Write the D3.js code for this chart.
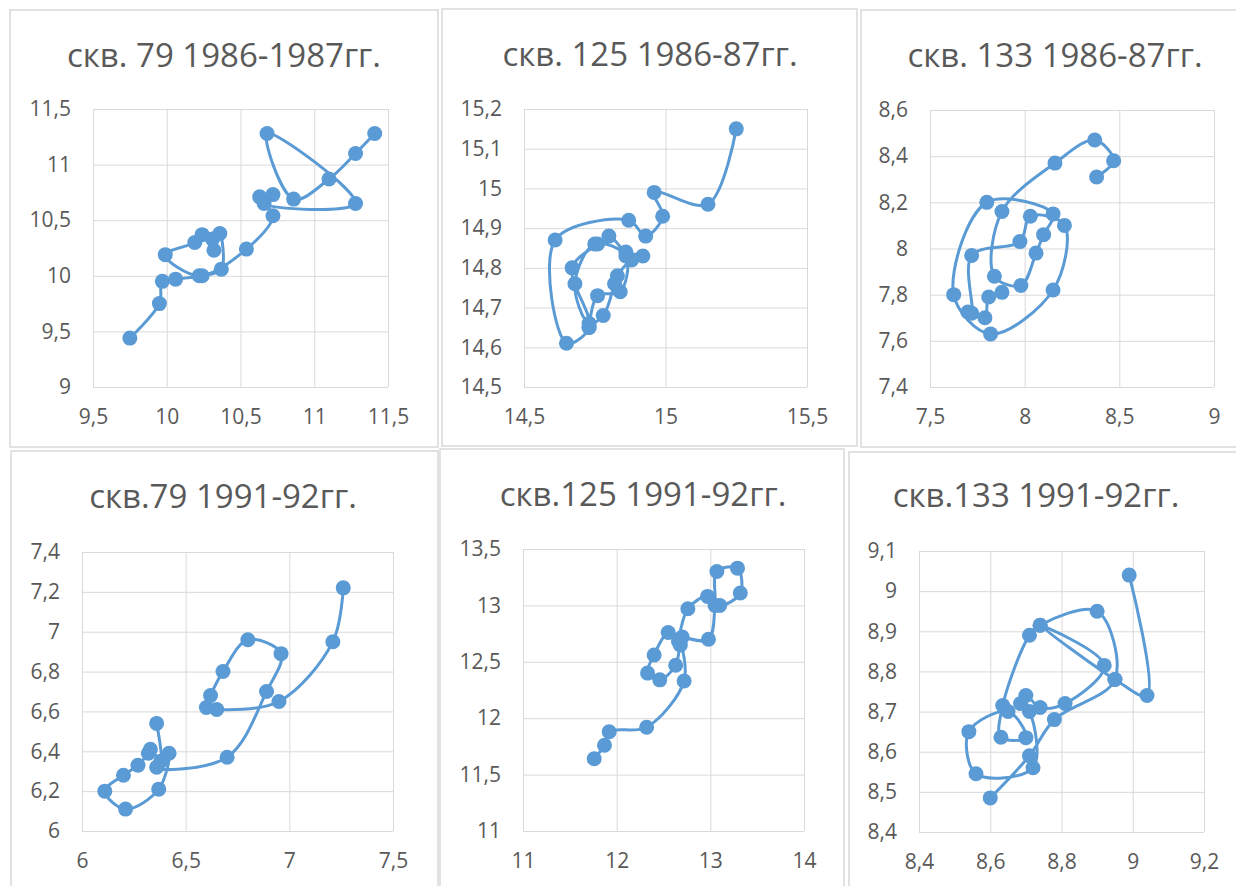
<html>
<head>
<meta charset="utf-8">
<style>
    body { margin: 0; background: #ffffff; }
    svg { display: block; font-family: "Open Sans", "Noto Sans", sans-serif; }
</style>
<script src="https://cdn.jsdelivr.net/npm/d3@7"></script>
</head>
<body>
<svg id="lienzo" width="1236" height="886"></svg>

<script>
    // Заголовки графиков
    const titles = ["скв. 79 1986-1987гг.", "скв. 125 1986-87гг.", "скв. 133 1986-87гг.",
                    "скв.79 1991-92гг.", "скв.125 1991-92гг.", "скв.133 1991-92гг."];

    // скв. 79, 1986-87
    const x79a = [9.75, 9.95, 9.97, 10.06, 10.24, 10.37, 10.36, 10.32, 10.31, 10.24, 10.19, 9.99, 10.22,
                  10.54, 10.72, 10.63, 10.72, 10.66, 11.28, 10.68, 10.86, 11.10, 11.28, 11.41];
    const y79a = [9.44, 9.75, 9.95, 9.97, 10.00, 10.06, 10.38, 10.23, 10.33, 10.37, 10.30, 10.19, 10.00,
                  10.24, 10.54, 10.71, 10.73, 10.65, 10.65, 11.28, 10.69, 10.87, 11.10, 11.28];

    // скв. 125, 1986-87
    const x125a = [15.25, 15.15, 14.96, 14.99, 14.93, 14.87, 14.61, 14.65, 14.73, 14.67, 14.76, 14.80, 14.86,
                   14.92, 14.88, 14.83, 14.82, 14.78, 14.73, 14.68, 14.75, 14.86, 14.84, 14.76, 14.73];
    const y125a = [15.15, 14.96, 14.99, 14.93, 14.88, 14.92, 14.87, 14.61, 14.65, 14.80, 14.86, 14.88, 14.84,
                   14.83, 14.82, 14.78, 14.76, 14.68, 14.66, 14.76, 14.86, 14.83, 14.74, 14.73, 14.65];

    // скв. 133, 1986-87
    const x133a = [8.38, 8.47, 8.37, 8.16, 7.88, 7.84, 7.98, 8.06, 8.10, 8.15, 7.80, 7.625, 7.82, 8.15,
                   8.21, 8.03, 7.975, 7.72, 7.72, 7.70, 7.79, 7.81, 7.88];
    const y133a = [8.31, 8.38, 8.47, 8.37, 8.16, 7.88, 7.84, 7.98, 8.06, 8.15, 8.20, 7.80, 7.63, 7.82,
                   8.10, 8.14, 8.03, 7.97, 7.72, 7.725, 7.70, 7.79, 7.81];

    // скв. 79, 1991-92
    const x79b = [7.26, 7.21, 6.95, 6.65, 6.60, 6.62, 6.68, 6.80, 6.96, 6.89, 6.70, 6.36, 6.42, 6.37,
                  6.21, 6.11, 6.20, 6.27, 6.32, 6.33, 6.38, 6.36];
    const y79b = [7.22, 6.95, 6.65, 6.61, 6.62, 6.68, 6.80, 6.96, 6.89, 6.70, 6.37, 6.32, 6.39, 6.21,
                  6.11, 6.20, 6.28, 6.33, 6.39, 6.41, 6.35, 6.54];

    // скв. 125, 1991-92
    const x125b = [11.76, 11.87, 11.92, 12.32, 12.72, 12.68, 12.63, 12.46, 12.33, 12.40, 12.55, 12.70,
                   12.98, 13.05, 13.07, 13.29, 13.32, 13.10, 12.97, 12.76, 12.66];
    const y125b = [11.64, 11.76, 11.88, 11.92, 12.33, 12.65, 12.47, 12.34, 12.40, 12.56, 12.76, 12.72,
                   12.70, 13.00, 13.30, 13.33, 13.11, 13.00, 13.08, 12.97, 12.68];

    // скв. 133, 1991-92
    const x133b = [8.99, 9.04, 8.95, 8.74, 8.92, 8.81, 8.74, 8.70, 8.685, 8.71, 8.72, 8.56, 8.54, 8.65,
                   8.70, 8.63, 8.635, 8.71, 8.74, 8.90, 8.95, 8.78, 8.71, 8.60];
    const y133b = [9.04, 8.74, 8.78, 8.915, 8.815, 8.72, 8.71, 8.74, 8.72, 8.70, 8.56, 8.545, 8.65, 8.70,
                   8.635, 8.636, 8.715, 8.89, 8.915, 8.95, 8.78, 8.68, 8.59, 8.485];

    // Деления осей
    const xTicks = [
        [9.5, 10, 10.5, 11, 11.5],
        [14.5, 15, 15.5],
        [7.5, 8, 8.5, 9],
        [6, 6.5, 7, 7.5],
        [11, 12, 13, 14],
        [8.4, 8.6, 8.8, 9, 9.2]
    ];
    const yTicks = [
        [9, 9.5, 10, 10.5, 11, 11.5],
        [14.5, 14.6, 14.7, 14.8, 14.9, 15, 15.1, 15.2],
        [7.4, 7.6, 7.8, 8, 8.2, 8.4, 8.6],
        [6, 6.2, 6.4, 6.6, 6.8, 7, 7.2, 7.4],
        [11, 11.5, 12, 12.5, 13, 13.5],
        [8.4, 8.5, 8.6, 8.7, 8.8, 8.9, 9, 9.1]
    ];

    const seriesX = [x79a, x125a, x133a, x79b, x125b, x133b];
    const seriesY = [y79a, y125a, y133a, y79b, y125b, y133b];

    // Расположение рамок и областей построения
    const layout = [
        { box: [10, 10, 428, 437],  plot: [93, 109, 295, 278],  titleX: 224,  titleY: 67 },
        { box: [442, 9, 415, 437],  plot: [524, 109, 283, 278], titleX: 650,  titleY: 66 },
        { box: [861, 10, 400, 437], plot: [930, 110, 284, 277], titleX: 1055, titleY: 67 },
        { box: [11, 451, 427, 450], plot: [82, 552, 311, 279],  titleX: 223,  titleY: 508 },
        { box: [440, 449, 404, 450], plot: [523, 549, 281, 282], titleX: 643, titleY: 506 },
        { box: [849, 452, 400, 450], plot: [919, 551, 285, 281], titleX: 1036, titleY: 507 }
    ];

    const colorSerie = "#5b9bd5";
    const colorGrid = "#d9d9d9";
    const colorText = "#595959";
    const formato = d => String(d).replace(".", ",");

    const svg = d3.select("#lienzo");

    function dibujarPanel(i) {
        let { box, plot, titleX, titleY } = layout[i];
        let [px, py, pw, ph] = plot;

        svg.append("rect")
            .attr("x", box[0]).attr("y", box[1])
            .attr("width", box[2]).attr("height", box[3])
            .attr("fill", "#ffffff")
            .attr("stroke", colorGrid)
            .attr("stroke-width", 1.5);

        svg.append("text")
            .attr("x", titleX).attr("y", titleY)
            .attr("text-anchor", "middle")
            .attr("fill", colorText)
            .attr("font-size", 33)
            .text(titles[i]);

        let xt = xTicks[i], yt = yTicks[i];
        let escalaX = d3.scaleLinear().domain([xt[0], xt[xt.length - 1]]).range([px, px + pw]);
        let escalaY = d3.scaleLinear().domain([yt[0], yt[yt.length - 1]]).range([py + ph, py]);

        let ejeX = svg.append("g")
            .attr("transform", `translate(0,${py + ph})`)
            .call(d3.axisBottom(escalaX).tickValues(xt).tickFormat(formato).tickSize(-ph).tickPadding(22));
        let ejeY = svg.append("g")
            .attr("transform", `translate(${px},0)`)
            .call(d3.axisLeft(escalaY).tickValues(yt).tickFormat(formato).tickSize(-pw).tickPadding(22));

        [ejeX, ejeY].forEach(eje => {
            eje.select(".domain").remove();
            eje.selectAll("line").attr("stroke", colorGrid).attr("stroke-width", 1);
            eje.selectAll("text").attr("fill", colorText).attr("font-size", 21)
                .attr("font-family", "'Open Sans', 'Noto Sans', sans-serif");
        });

        let puntos = seriesX[i].map((x, k) => [x, seriesY[i][k]]);

        let linea = d3.line()
            .x(d => escalaX(d[0]))
            .y(d => escalaY(d[1]))
            .curve(d3.curveCatmullRom.alpha(0.5));

        svg.append("path")
            .datum(puntos)
            .attr("d", linea)
            .attr("fill", "none")
            .attr("stroke", colorSerie)
            .attr("stroke-width", 3)
            .attr("stroke-linejoin", "round");

        svg.append("g").selectAll("circle")
            .data(puntos)
            .enter().append("circle")
            .attr("cx", d => escalaX(d[0]))
            .attr("cy", d => escalaY(d[1]))
            .attr("r", 7.5)
            .attr("fill", colorSerie);
    }

    d3.range(6).forEach(dibujarPanel);
</script>
</body>
</html>
